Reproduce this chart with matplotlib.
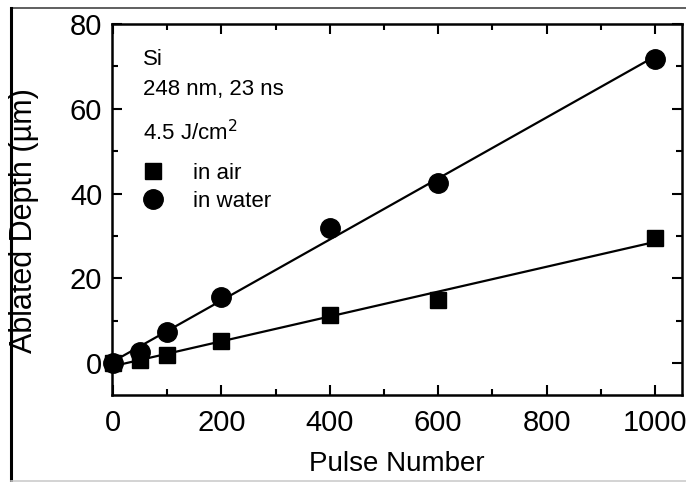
import numpy as np
import matplotlib
matplotlib.use('Agg')
import matplotlib.pyplot as plt
from matplotlib.lines import Line2D

# 脉冲数与烧蚀深度 (um)
pulses = [0, 50, 100, 200, 400, 600, 1000]
depth_air = [0, 0.8, 2.0, 5.2, 11.4, 15.0, 29.6]
depth_water = [0, 2.7, 7.4, 15.6, 31.8, 42.6, 71.8]

plt.rcParams['font.family'] = ['Liberation Sans', 'DejaVu Sans']

fig = plt.figure(figsize=(6.86, 4.82), dpi=100)
ax = fig.add_axes([112/686, 87/482, 570/686, 371/482])

x = np.array(pulses)
fit_air = np.polyfit(x, depth_air, 1)
fit_water = np.polyfit(x, depth_water, 1)
xx = np.array([0, 1000])
ax.plot(xx, np.polyval(fit_air, xx), color='black', lw=1.6)
ax.plot(xx, np.polyval(fit_water, xx), color='black', lw=1.6)
ax.plot(pulses, depth_air, 's', color='black', ms=11, clip_on=False, label='in air')
ax.plot(pulses, depth_water, 'o', color='black', ms=14, clip_on=False, label='in water')

ax.set_xlim(-2, 1050)
ax.set_ylim(-7.5, 80)
ax.set_xticks([0, 200, 400, 600, 800, 1000])
ax.set_yticks([0, 20, 40, 60, 80])
ax.set_xticks(np.arange(100, 1000, 200), minor=True)
ax.set_yticks([10, 30, 50, 70], minor=True)
ax.tick_params(which='both', direction='in', top=True, right=True, labelsize=21, width=1.5)
ax.tick_params(axis='x', pad=10)
ax.tick_params(axis='y', pad=7)
ax.tick_params(which='major', length=7)
ax.tick_params(which='minor', length=4)
for s in ax.spines.values():
    s.set_linewidth(1.8)

ax.set_xlabel('Pulse Number', fontsize=20, labelpad=10)
ax.set_ylabel('Ablated Depth (\u00b5m)', fontsize=22)
ax.yaxis.set_label_coords(-0.128, 0.47)

ax.text(0.055, 0.889, 'Si', transform=ax.transAxes, fontsize=16, va='baseline')
ax.text(0.055, 0.809, '248 nm, 23 ns', transform=ax.transAxes, fontsize=16, va='baseline')
ax.text(0.055, 0.687, '4.5 J/cm$^2$', transform=ax.transAxes, fontsize=16, va='baseline')
ax.legend(loc='center left', bbox_to_anchor=(0.033, 0.56), frameon=False, fontsize=16,
          handlelength=1.2, handletextpad=1.2, labelspacing=0.3, borderaxespad=0,
          borderpad=0.4)

# 外框
fig.add_artist(Line2D([11/686, 1], [1-8/482, 1-8/482], color='#444444', lw=1.2))
fig.add_artist(Line2D([11/686, 11/686], [0, 1-8/482], color='black', lw=2.2))
fig.add_artist(Line2D([11/686, 1], [1/482, 1/482], color='#cccccc', lw=1.2))

fig.savefig('out.png', dpi=100)
